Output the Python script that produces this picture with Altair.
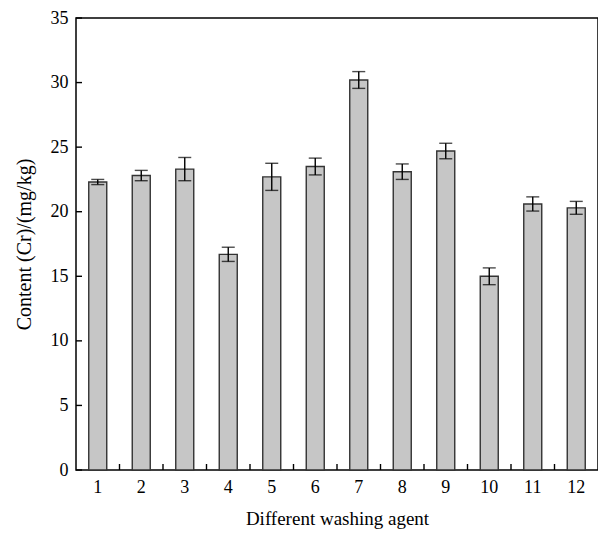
import altair as alt
import pandas as pd

agents = ["1", "2", "3", "4", "5", "6", "7", "8", "9", "10", "11", "12"]
content = [22.3, 22.8, 23.3, 16.7, 22.7, 23.5, 30.2, 23.1, 24.7, 15.0, 20.6, 20.3]
errors = [0.2, 0.4, 0.9, 0.55, 1.05, 0.65, 0.65, 0.6, 0.6, 0.65, 0.55, 0.5]
y_ticks = [0, 5, 10, 15, 20, 25, 30, 35]
x_minor = agents[1:]

W, H = 522, 452
FONT = "Liberation Serif"

df = pd.DataFrame({"agent": agents, "value": content, "err": errors})
df["lo"] = df["value"] - df["err"]
df["hi"] = df["value"] + df["err"]

xscale = alt.Scale(domain=agents)
yscale = alt.Scale(domain=[0, 35], nice=False)

base = alt.Chart(df)

bars = base.mark_bar(size=18, fill="#c6c6c6", stroke="#333333", strokeWidth=1.4).encode(
    x=alt.X("agent:N", scale=xscale, sort=agents,
            axis=alt.Axis(title="Different washing agent", labelAngle=0, domain=False,
                          ticks=False, tickSize=0, labelPadding=8, titlePadding=13,
                          labelFont=FONT, titleFont=FONT, labelFontSize=18, titleFontSize=19,
                          titleFontWeight="normal", labelColor="black", titleColor="black")),
    y=alt.Y("value:Q", scale=yscale,
            axis=alt.Axis(title="Content (Cr)/(mg/kg)", values=y_ticks, domain=False, grid=False,
                          ticks=False, tickSize=0, labelPadding=8, titlePadding=16,
                          labelFont=FONT, titleFont=FONT, labelFontSize=18, titleFontSize=20,
                          titleFontWeight="normal", labelColor="black", titleColor="black")),
)

whisk = base.mark_rule(color="black", strokeWidth=1.4).encode(
    x=alt.X("agent:N", scale=xscale, sort=agents),
    y=alt.Y("lo:Q", scale=yscale),
    y2="hi:Q",
)
cap_hi = base.mark_tick(color="black", size=13, thickness=1.4, orient="horizontal").encode(
    x=alt.X("agent:N", scale=xscale, sort=agents),
    y=alt.Y("hi:Q", scale=yscale),
)
cap_lo = base.mark_tick(color="black", size=13, thickness=1.4, orient="horizontal").encode(
    x=alt.X("agent:N", scale=xscale, sort=agents),
    y=alt.Y("lo:Q", scale=yscale),
)

yt = alt.Chart(pd.DataFrame({"v": y_ticks})).mark_rule(color="black", strokeWidth=1.4).encode(
    y=alt.Y("v:Q", scale=yscale),
    x=alt.value(0),
    x2=alt.value(6),
)
xt = alt.Chart(pd.DataFrame({"agent": x_minor})).mark_rule(color="black", strokeWidth=1.4).encode(
    x=alt.X("agent:N", scale=xscale, sort=agents, bandPosition=0),
    y=alt.value(H - 6),
    y2=alt.value(H),
)

chart = alt.layer(bars, whisk, cap_hi, cap_lo, yt, xt).properties(
    width=W, height=H,
    autosize=alt.AutoSizeParams(type="none"),
    padding={"left": 68, "top": 10, "right": 0, "bottom": 62},
).configure_view(stroke="black", strokeWidth=1.5).configure_scale(bandPaddingInner=0, bandPaddingOuter=0)

chart.save("out.html", embed_options={"renderer": "svg", "actions": False})
